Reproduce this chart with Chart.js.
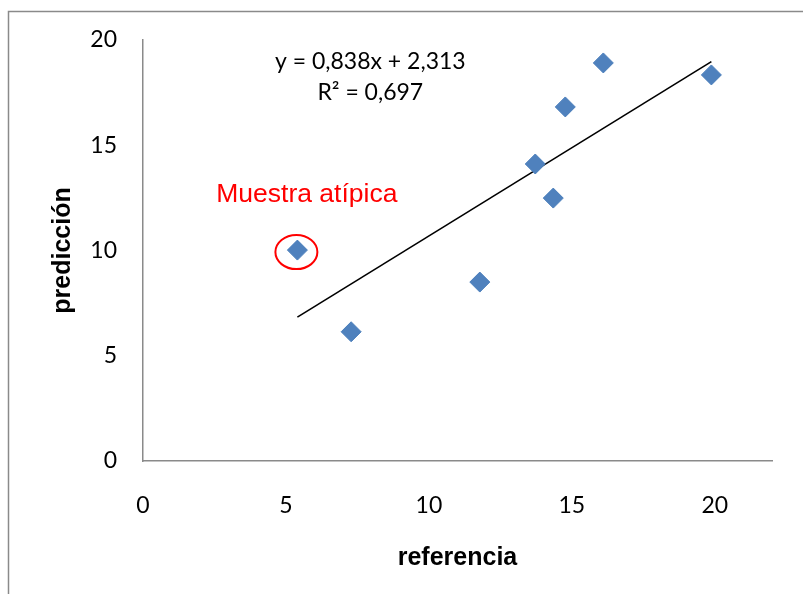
<!DOCTYPE html>
<html>
<head>
<meta charset="utf-8">
<script src="https://cdn.jsdelivr.net/npm/chart.js@4.4.1/dist/chart.umd.min.js"></script>
<style>
  html, body { margin: 0; padding: 0; background: #ffffff; }
  #wrap { position: relative; width: 803px; height: 594px; }
</style>
</head>
<body>
<div id="wrap"><canvas id="c" width="803" height="594"></canvas></div>
<script>
// Measured samples: reference value vs. predicted value
const referencia = [5.40, 7.28, 11.78, 13.72, 14.35, 14.77, 16.10, 19.88];
const prediccion = [10.02, 6.14, 8.50, 14.11, 12.49, 16.82, 18.91, 18.34];

// Axis ticks
const xTicks = [0, 5, 10, 15, 20];
const yTicks = [0, 5, 10, 15, 20];

// Linear trend reported for the samples
const slope = 0.838;
const intercept = 2.313;
const rSquared = 0.697;

// The sample flagged as an outlier
const outlierIndex = 0;
const outlierText = 'Muestra atípica';

const fmt = v => v.toFixed(3).replace('.', ',');
const equationLines = [
  'y = ' + fmt(slope) + 'x + ' + fmt(intercept),
  'R² = ' + fmt(rSquared)
];

const points = referencia.map((x, i) => ({ x: x, y: prediccion[i] }));
const xMinData = Math.min(...referencia);
const xMaxData = Math.max(...referencia);
const trend = [xMinData, xMaxData].map(x => ({ x: x, y: slope * x + intercept }));

const tickFont = { family: 'Lato', size: 23 };
const titleFont = { family: 'Liberation Sans', size: 25, weight: 'bold' };

// Thin grey frame around the whole chart
const framePlugin = {
  id: 'frame',
  beforeDraw(chart) {
    const ctx = chart.ctx;
    ctx.save();
    ctx.strokeStyle = '#8a8a8a';
    ctx.lineWidth = 1.5;
    ctx.beginPath();
    ctx.moveTo(8.5, chart.height);
    ctx.lineTo(8.5, 11.5);
    ctx.lineTo(chart.width, 11.5);
    ctx.stroke();
    ctx.restore();
  }
};

// Trend equation, outlier ring and its caption
const notesPlugin = {
  id: 'notes',
  afterDatasetsDraw(chart) {
    const ctx = chart.ctx;
    const xs = chart.scales.x, ys = chart.scales.y;
    ctx.save();

    // equation block
    ctx.fillStyle = '#000000';
    ctx.font = '23px Lato';
    ctx.textAlign = 'center';
    ctx.textBaseline = 'alphabetic';
    const ex = xs.getPixelForValue(7.95);
    ctx.fillText(equationLines[0], ex, ys.getPixelForValue(18.60));
    ctx.fillText(equationLines[1], ex, ys.getPixelForValue(17.15));

    // ring around the outlier
    const px = xs.getPixelForValue(referencia[outlierIndex]);
    const py = ys.getPixelForValue(prediccion[outlierIndex]);
    ctx.strokeStyle = '#ff0000';
    ctx.lineWidth = 2;
    ctx.beginPath();
    ctx.ellipse(px - 1, py + 2, 21, 17, 0, 0, Math.PI * 2);
    ctx.stroke();

    // caption
    ctx.fillStyle = '#ff0000';
    ctx.font = '26.5px "Liberation Sans"';
    ctx.fillText(outlierText, xs.getPixelForValue(5.73), ys.getPixelForValue(12.30));
    ctx.restore();
  }
};

new Chart(document.getElementById('c'), {
  type: 'scatter',
  data: {
    datasets: [
      {
        label: 'Tendencia',
        type: 'line',
        data: trend,
        borderColor: '#000000',
        borderWidth: 1.6,
        pointRadius: 0,
        fill: false,
        order: 2
      },
      {
        label: 'predicción',
        data: points,
        pointStyle: 'rectRot',
        pointRadius: 10,
        backgroundColor: '#4f81bd',
        borderColor: '#4a7ebb',
        borderWidth: 1,
        order: 1
      }
    ]
  },
  options: {
    responsive: false,
    animation: false,
    events: [],
    layout: { padding: { top: 40, right: 31, bottom: 0, left: 0 } },
    plugins: {
      legend: { display: false },
      tooltip: { enabled: false }
    },
    scales: {
      x: {
        type: 'linear',
        min: 0,
        max: 22,
        afterBuildTicks: s => { s.ticks = xTicks.map(v => ({ value: v })); },
        afterFit: s => { s.height = 133; },
        grid: { display: false, drawTicks: false },
        border: { display: true, color: '#8a8a8a', width: 1.5 },
        ticks: { font: tickFont, color: '#000000', padding: 31, maxRotation: 0 },
        title: { display: true, text: 'referencia', font: titleFont, color: '#000000', padding: { top: 0, bottom: 21 } }
      },
      y: {
        type: 'linear',
        min: 0,
        max: 20,
        afterBuildTicks: s => { s.ticks = yTicks.map(v => ({ value: v })); },
        afterFit: s => { s.width = 143; },
        grid: { display: false, drawTicks: false },
        border: { display: true, color: '#8a8a8a', width: 1.5 },
        ticks: { font: tickFont, color: '#000000', padding: 26 },
        title: { display: true, text: 'predicción', font: titleFont, color: '#000000', padding: { top: 48, bottom: 0 } }
      }
    }
  },
  plugins: [framePlugin, notesPlugin]
});
</script>
</body>
</html>
